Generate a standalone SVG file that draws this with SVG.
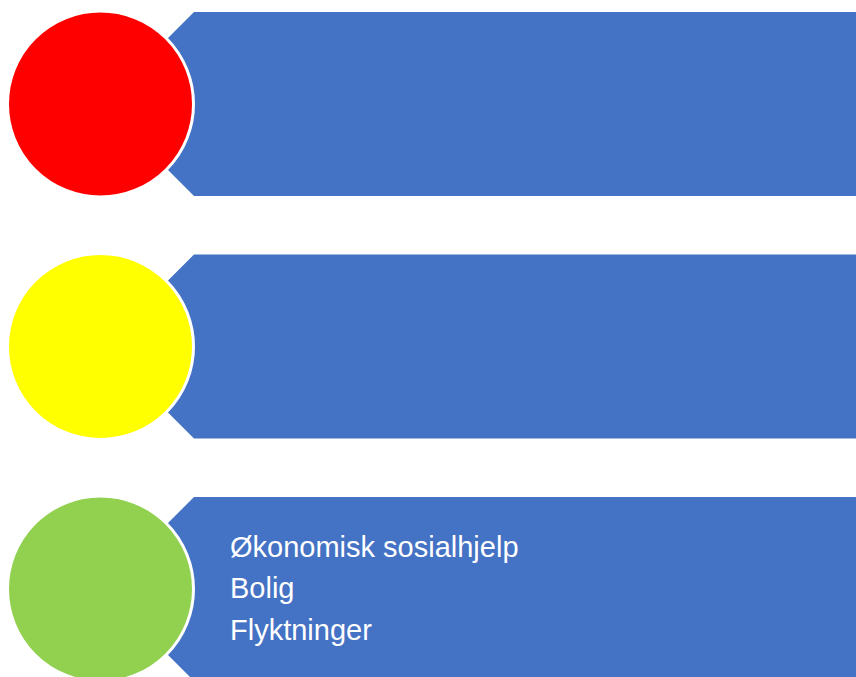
<svg xmlns="http://www.w3.org/2000/svg" width="856" height="677" viewBox="0 0 856 677">
<style>
.bar{fill:#4472C4}
.dot{stroke:#FFFFFF;stroke-width:3}
.t{font-family:"Liberation Sans",Arial,sans-serif;font-size:29px;fill:#FFFFFF}
</style>
<rect width="856" height="677" fill="#FFFFFF"/>
<g id="row1">
<path class="bar" d="M194,12 H856 V196 H194 L102,104 Z"/>
<circle id="c1" class="dot" cx="100.5" cy="104" r="93" fill="#FF0000"/>
</g>
<g id="row2">
<path class="bar" d="M194,254.5 H856 V438.5 H194 L102,346.5 Z"/>
<circle id="c2" class="dot" cx="100.5" cy="346.5" r="93" fill="#FFFF00"/>
</g>
<g id="row3">
<path class="bar" d="M194,497 H856 V681 H194 L102,589 Z"/>
<circle id="c3" class="dot" cx="100.5" cy="589" r="93" fill="#92D050"/>
<text class="t" x="230" y="557">Økonomisk sosialhjelp</text>
<text class="t" x="230" y="598">Bolig</text>
<text class="t" x="230" y="640">Flyktninger</text>
</g>
<g id="connectors"></g>
</svg>
